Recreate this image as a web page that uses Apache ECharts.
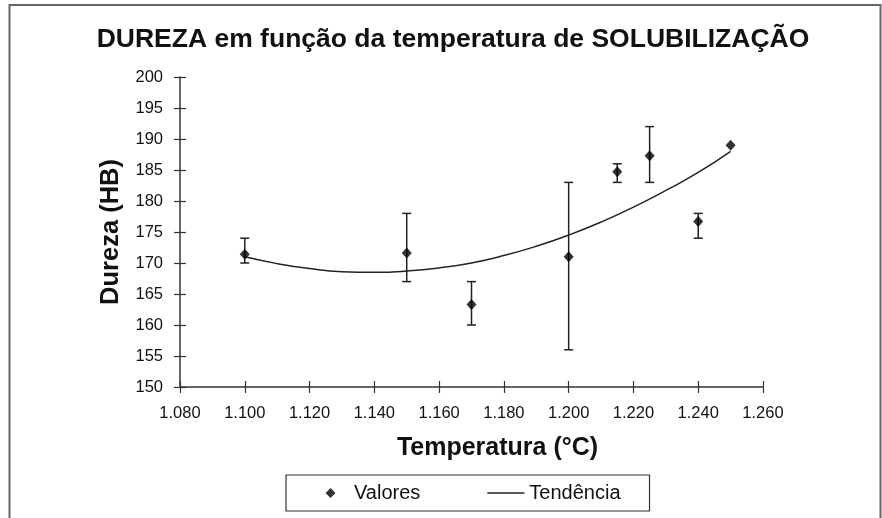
<!DOCTYPE html>
<html>
<head>
<meta charset="utf-8">
<script src="https://cdn.jsdelivr.net/npm/echarts@6/dist/echarts.min.js"></script>
<style>
html,body{margin:0;padding:0;background:#fff;}
#chart{width:882px;height:518px;}
</style>
</head>
<body>
<div id="chart"></div>
<script>
// ---- data ----
const temps   = [1100, 1150, 1170, 1200, 1215, 1225, 1240, 1250];
const hardness = [171.4, 171.6, 163.3, 171.0, 184.7, 187.3, 176.7, 189.0];
const errLow  = [170, 167, 160, 156, 183, 183, 174, null];
const errHigh = [174, 178, 167, 183, 186, 192, 178, null];
const trendX  = [1100, 1110, 1120, 1130, 1140, 1150, 1160, 1170, 1180, 1190, 1200, 1210, 1220, 1230, 1240, 1250];
const trendY  = [171.0, 169.9, 169.1, 168.6, 168.5, 168.7, 169.2, 170.0, 171.2, 172.7, 174.5, 176.6, 179.0, 181.7, 184.6, 188.0];
const titleText = 'DUREZA em função da temperatura de SOLUBILIZAÇÃO';
const xName = 'Temperatura (°C)';
const yName = 'Dureza (HB)';
const legendNames = ['Valores', 'Tendência'];

const FONT = "'Liberation Sans', Arial, sans-serif";
const INK = '#111';
const AX = '#333';

const fmtThousands = v => String(v).replace(/\B(?=(\d{3})+(?!\d))/g, '.');

const errData = [];
temps.forEach((t, i) => { if (errLow[i] != null) errData.push([t, errLow[i], errHigh[i]]); });

const chart = echarts.init(document.getElementById('chart'));

const xBase = {type: 'value', min: 1080, max: 1260, interval: 20, gridIndex: 0, splitLine: {show: false}};
const yBase = {type: 'value', min: 150, max: 200, interval: 5, gridIndex: 0, splitLine: {show: false}};

// legend icons (diamond centred in the icon box / plain line)
const diamondIcon = 'path://M0,0L0.01,0M37,10L36.99,10M18.5,0L23.5,5L18.5,10L13.5,5Z';
const lineIcon = 'path://M0,0L0.01,0M37,10L36.99,10M0,4.35L37,4.35L37,5.65L0,5.65Z';

chart.setOption({
  animation: false,
  backgroundColor: '#fff',
  title: {
    text: titleText,
    left: 448, textAlign: 'center', top: 21,
    textStyle: {fontFamily: FONT, fontWeight: 'bold', fontSize: 26.5, color: INK}
  },
  grid: {left: 180, right: 119, top: 77, bottom: 131, containLabel: false},
  xAxis: [
    Object.assign({}, xBase, {
      position: 'bottom',
      name: xName, nameLocation: 'middle', nameGap: 49,
      nameTextStyle: {fontFamily: FONT, fontWeight: 'bold', fontSize: 25, color: INK, padding: [0, 0, 0, 52]},
      axisLine: {lineStyle: {color: AX, width: 1.5}},
      axisTick: {show: true, inside: false, length: 6, lineStyle: {color: AX, width: 1.2}},
      axisLabel: {formatter: fmtThousands, fontFamily: FONT, fontSize: 16.5, color: INK, margin: 18}
    }),
    Object.assign({}, xBase, {
      position: 'bottom',
      axisLine: {show: false},
      axisTick: {show: true, inside: true, length: 6, lineStyle: {color: AX, width: 1.2}},
      axisLabel: {show: false}
    })
  ],
  yAxis: [
    Object.assign({}, yBase, {
      position: 'left',
      name: yName, nameLocation: 'middle', nameGap: 56,
      nameTextStyle: {fontFamily: FONT, fontWeight: 'bold', fontSize: 25.5, color: INK},
      axisLine: {show: true, lineStyle: {color: AX, width: 1.5}},
      axisTick: {show: true, inside: false, length: 6, lineStyle: {color: AX, width: 1.2}},
      axisLabel: {fontFamily: FONT, fontSize: 16.5, color: INK, margin: 17}
    }),
    Object.assign({}, yBase, {
      position: 'left', offset: 0,
      axisLine: {show: false},
      axisTick: {show: true, inside: true, length: 6, lineStyle: {color: AX, width: 1.2}},
      axisLabel: {show: false}
    })
  ],
  legend: {
    data: [
      {name: legendNames[0], icon: diamondIcon, itemStyle: {color: '#000'}},
      {name: legendNames[1], icon: lineIcon, itemStyle: {color: '#222'}}
    ],
    left: 286, top: 475,
    orient: 'horizontal',
    itemWidth: 37, itemHeight: 10, itemGap: 67,
    padding: [8, 29, 8, 26],
    borderColor: '#333', borderWidth: 1.2,
    textStyle: {fontFamily: FONT, fontSize: 20, color: INK}
  },
  graphic: [{
    type: 'rect', z: -10, silent: true,
    shape: {x: 9.5, y: 5, width: 871, height: 600},
    style: {fill: 'none', stroke: '#666', lineWidth: 2}
  }],
  series: [
    {
      type: 'custom', name: 'erro', xAxisIndex: 0, yAxisIndex: 0,
      data: errData, z: 2,
      renderItem: function (params, api) {
        const x = api.value(0);
        const top = api.coord([x, api.value(2)]);
        const bot = api.coord([x, api.value(1)]);
        const w = 4.5;
        const st = {stroke: '#222', lineWidth: 1.5};
        return {type: 'group', children: [
          {type: 'line', shape: {x1: top[0], y1: top[1], x2: bot[0], y2: bot[1]}, style: st},
          {type: 'line', shape: {x1: top[0] - w, y1: top[1], x2: top[0] + w, y2: top[1]}, style: st},
          {type: 'line', shape: {x1: bot[0] - w, y1: bot[1], x2: bot[0] + w, y2: bot[1]}, style: st}
        ]};
      },
      encode: {x: 0, y: [1, 2]}
    },
    {
      type: 'line', name: 'Tendência', xAxisIndex: 0, yAxisIndex: 0,
      data: trendX.map((x, i) => [x, trendY[i]]),
      smooth: true, symbol: 'none', z: 3,
      lineStyle: {color: '#222', width: 1.5},
      itemStyle: {color: '#222'}
    },
    {
      type: 'scatter', name: 'Valores', xAxisIndex: 0, yAxisIndex: 0,
      data: temps.map((x, i) => [x, hardness[i]]),
      symbol: 'diamond', symbolSize: [10, 11], z: 4,
      itemStyle: {color: '#000'}
    }
  ]
});
</script>
</body>
</html>
